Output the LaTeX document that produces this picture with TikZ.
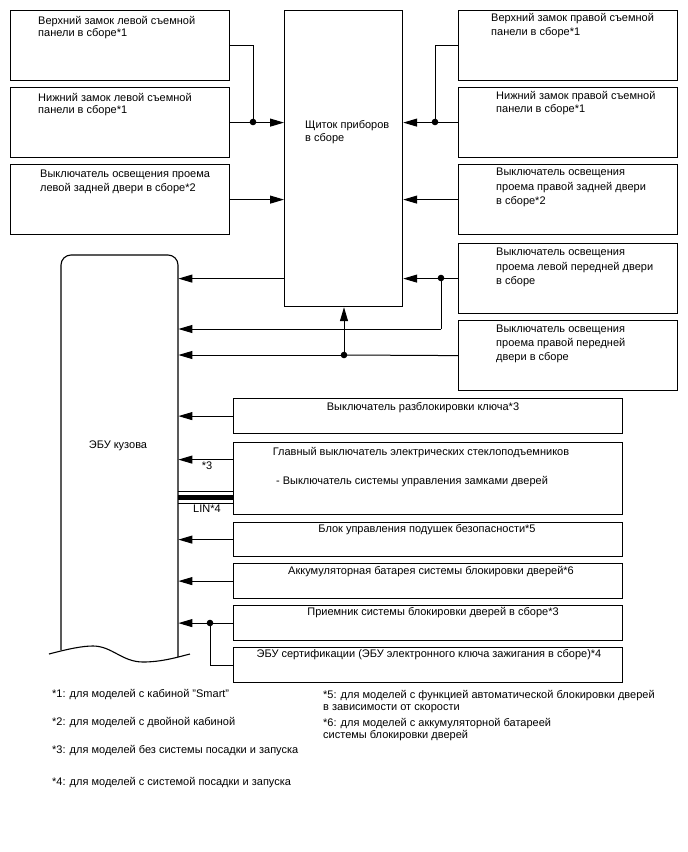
\documentclass[tikz,border=0pt]{standalone}
\usepackage{fontspec}
\setmainfont{Liberation Sans}
\usetikzlibrary{arrows.meta}
\begin{document}
\begin{tikzpicture}[x=1pt,y=-1pt,
  every node/.style={font=\fontsize{11}{13}\selectfont},
  box/.style={draw, line width=1.2pt, anchor=north west, inner sep=0},
  sidebox/.style={box, minimum width=219pt, minimum height=70pt},
  botbox/.style={box, minimum width=389pt},
  txt/.style={anchor=north west, inner sep=0, align=left},
  ctxt/.style={inner sep=0},
  wire/.style={line width=1pt},
  arr/.style={wire, -{Triangle[length=14pt,width=8pt]}},
  jdot/.style={fill=black},
]
\useasboundingbox (0,0) rectangle (688,852);

% ---- boxes ----
\node[sidebox] (L1) at (10,10) {};
\node[sidebox] (L2) at (10,87) {};
\node[sidebox] (L3) at (10,164) {};
\node[sidebox] (R1) at (458,10) {};
\node[sidebox] (R2) at (458,87) {};
\node[sidebox] (R3) at (458,164) {};
\node[sidebox] (R4) at (458,243) {};
\node[sidebox] (R5) at (458,320) {};
\node[box, minimum width=118pt, minimum height=296pt] (dash) at (284,10) {};

\node[botbox, minimum height=35pt] (K) at (233,398) {};
\node[botbox, minimum height=72pt] (W) at (233,442) {};
\node[botbox, minimum height=34pt] (A) at (233,522) {};
\node[botbox, minimum height=35pt] (B) at (233,563) {};
\node[botbox, minimum height=35pt] (Rc) at (233,605) {};
\node[botbox, minimum height=35pt] (E) at (233,647) {};

% ECU body (custom outline) and its reference node
\node[anchor=north west, inner sep=0, minimum width=117pt, minimum height=400pt] (ecu) at (61,255) {};
\draw[line width=1.1pt, rounded corners=10pt] (61,650) -- (61,255) -- (178,255) -- (178,657);
\draw[line width=1.1pt] (49,654) .. controls (68,649) and (82,646) .. (93,646)
  .. controls (112,646) and (122,662) .. (143,662)
  .. controls (162,662) and (178,657) .. (190,654);
\node[ctxt] (ecut) at (118,446) {ЭБУ кузова};

% ---- texts ----
\node[txt, font=\fontsize{11}{12}\selectfont] (L1t) at (38,16) {Верхний замок левой съемной\\панели в сборе*1};
\node[txt, font=\fontsize{11}{12}\selectfont] (L2t) at (38,93) {Нижний замок левой съемной\\панели в сборе*1};
\node[txt, font=\fontsize{11}{14}\selectfont] (L3t) at (40,170) {Выключатель освещения проема\\левой задней двери в сборе*2};
\node[txt, font=\fontsize{11}{13}\selectfont] (dasht) at (305,120) {Щиток приборов\\в сборе};
\node[txt, font=\fontsize{11}{14.5}\selectfont] (R1t) at (491,13) {Верхний замок правой съемной\\панели в сборе*1};
\node[txt, font=\fontsize{11}{13.5}\selectfont] (R2t) at (496,91) {Нижний замок правой съемной\\панели в сборе*1};
\node[txt, font=\fontsize{11}{14.5}\selectfont] (R3t) at (496,168) {Выключатель освещения\\проема правой задней двери\\в сборе*2};
\node[txt, font=\fontsize{11}{14.5}\selectfont] (R4t) at (496,248) {Выключатель освещения\\проема левой передней двери\\в сборе};
\node[txt, font=\fontsize{11}{14}\selectfont] (R5t) at (496,325) {Выключатель освещения\\проема правой передней\\двери в сборе};

\node[ctxt] (Kt) at (423,408) {Выключатель разблокировки ключа*3};
\node[ctxt] (Wt1) at (421,453) {Главный выключатель электрических стеклоподъемников};
\node[ctxt] (Wt2) at (412,482) {- Выключатель системы управления замками дверей};
\node[ctxt] (At) at (427,530) {Блок управления подушек безопасности*5};
\node[ctxt] (Bt) at (431,572) {Аккумуляторная батарея системы блокировки дверей*6};
\node[ctxt] (Rct) at (433,613) {Приемник системы блокировки дверей в сборе*3};
\node[ctxt] (Et) at (429,655) {ЭБУ сертификации (ЭБУ электронного ключа зажигания в сборе)*4};

% ---- junctions ----
\coordinate (jL) at (253,122);
\coordinate (jR) at (435,122);
\coordinate (jA) at (441,278);
\coordinate (kA) at (441,329);
\coordinate (jB) at (344,355);
\coordinate (jE) at (210,623);

% ---- connectors to the instrument cluster ----
\draw[wire] (L1.east) -| (jL);
\draw[arr] (L2.east) -- (L2.east -| dash.west);
\draw[arr] (L3.east) -- (L3.east -| dash.west);
\draw[wire] (R1.west) -| (jR);
\draw[arr] (R2.west) -- (R2.west -| dash.east);
\draw[arr] (R3.west) -- (R3.west -| dash.east);
\draw[arr] (R4.west) -- (R4.west -| dash.east);

% ---- connectors to the body ECU ----
\draw[arr] (dash.west |- R4.west) -- (ecu.east |- R4.west);
\draw[wire] (jA) -- (kA);
\draw[arr] (kA) -- (kA -| ecu.east);
\draw[wire] (R5.west) -- (jB);
\draw[arr] (jB) -- (jB -| ecu.east);
\draw[arr] (jB) -- (jB |- dash.south);

\draw[arr] (K.west) -- (K.west -| ecu.east);
\draw[arr] ([yshift=19pt]W.west) -- ([yshift=19pt]W.west -| ecu.east);
\node[ctxt] (s3) at (207,466) {*3};
% LIN bus
\draw[line width=0.9pt] ([yshift=-13pt]W.west) -- ([yshift=-13pt]W.west -| ecu.east);
\draw[line width=5pt] ([yshift=-18.5pt]W.west) -- ([yshift=-18.5pt]W.west -| ecu.east);
\draw[line width=0.9pt] ([yshift=-25pt]W.west) -- ([yshift=-25pt]W.west -| ecu.east);
\node[ctxt] (lin) at (207,509) {LIN*4};

\draw[arr] (A.west) -- (A.west -| ecu.east);
\draw[arr] (B.west) -- (B.west -| ecu.east);
\draw[arr] (Rc.west) -- (Rc.west -| ecu.east);
\draw[wire] (E.west) -| (jE);

% ---- junction dots ----
\foreach \j in {jL,jR,jA,jB,jE} \fill[jdot] (\j) circle (3.3pt);

% ---- footnotes ----
\node[ctxt, anchor=west] (f1) at (52,695) {*1: для моделей с кабиной \char"0022Smart\char"0022};
\node[ctxt, anchor=west] (f2) at (52,723) {*2: для моделей с двойной кабиной};
\node[ctxt, anchor=west] (f3) at (52,751) {*3: для моделей без системы посадки и запуска};
\node[ctxt, anchor=west] (f4) at (52,783) {*4: для моделей с системой посадки и запуска};
\node[txt, font=\fontsize{11}{12}\selectfont] (f5) at (323,690) {*5: для моделей с функцией автоматической блокировки дверей\\в зависимости от скорости};
\node[txt, font=\fontsize{11}{12}\selectfont] (f6) at (323,718) {*6: для моделей с аккумуляторной батареей\\системы блокировки дверей};
\end{tikzpicture}
\end{document}
